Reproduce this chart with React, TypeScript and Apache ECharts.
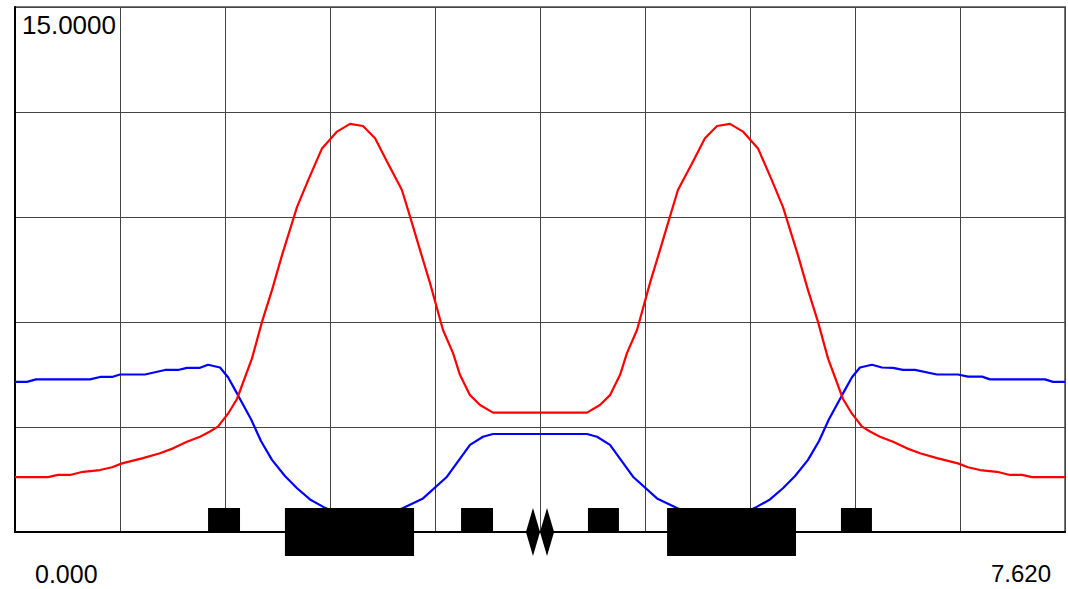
import React, { useEffect, useRef } from "react";
import * as echarts from "echarts";

// Axis ranges and tick labels
const X_MIN = 0;
const X_MAX = 7.62;
const X_INTERVAL = 0.762;
const Y_MIN = 0;
const Y_MAX = 15;
const Y_INTERVAL = 3;
const X_MIN_LABEL = "0.000";
const X_MAX_LABEL = "7.620";
const Y_MAX_LABEL = "15.0000";

// Blue curve [position, value]
const BLUE_POINTS: [number, number][] = [
  [0.0, 4.29], [0.087, 4.29], [0.152, 4.36], [0.544, 4.36], [0.617, 4.43],
  [0.704, 4.43], [0.762, 4.5], [0.943, 4.5], [1.089, 4.63], [1.183, 4.63],
  [1.248, 4.69], [1.343, 4.69], [1.401, 4.78], [1.488, 4.7], [1.546, 4.42],
  [1.611, 3.96], [1.713, 3.22], [1.785, 2.6], [1.865, 2.06], [1.959, 1.6],
  [2.047, 1.25], [2.141, 0.93], [2.25, 0.69], [2.359, 0.48], [2.446, 0.38],
  [2.525, 0.35], [2.613, 0.4], [2.707, 0.52], [2.801, 0.66], [2.961, 0.96],
  [3.135, 1.58], [3.302, 2.49], [3.396, 2.72], [3.469, 2.8], [4.151, 2.8],
  [4.224, 2.72], [4.318, 2.49], [4.485, 1.58], [4.659, 0.96], [4.819, 0.66],
  [4.913, 0.52], [5.007, 0.4], [5.095, 0.35], [5.174, 0.38], [5.261, 0.48],
  [5.37, 0.69], [5.479, 0.93], [5.573, 1.25], [5.661, 1.6], [5.755, 2.06],
  [5.835, 2.6], [5.907, 3.22], [6.009, 3.96], [6.074, 4.42], [6.132, 4.7],
  [6.219, 4.78], [6.292, 4.7], [6.372, 4.69], [6.444, 4.63], [6.531, 4.63],
  [6.691, 4.5], [6.843, 4.5], [6.916, 4.44], [7.018, 4.44], [7.076, 4.36],
  [7.475, 4.36], [7.533, 4.29], [7.62, 4.29],
];

// Red curve [position, value]
const RED_POINTS: [number, number][] = [
  [0.0, 1.57], [0.239, 1.57], [0.312, 1.63], [0.399, 1.63], [0.493, 1.72],
  [0.617, 1.77], [0.704, 1.85], [0.777, 1.96], [0.929, 2.11], [1.052, 2.25],
  [1.147, 2.39], [1.248, 2.58], [1.343, 2.72], [1.415, 2.87], [1.473, 3.01],
  [1.546, 3.38], [1.611, 3.8], [1.72, 4.96], [1.793, 6.01], [1.865, 6.91],
  [1.938, 7.91], [2.047, 9.29], [2.134, 10.11], [2.228, 10.96], [2.337, 11.44],
  [2.431, 11.66], [2.525, 11.6], [2.613, 11.25], [2.707, 10.53], [2.808, 9.77],
  [2.867, 9.01], [2.939, 8.06], [3.012, 7.11], [3.106, 5.77], [3.179, 5.11],
  [3.229, 4.49], [3.302, 3.91], [3.375, 3.63], [3.469, 3.41], [4.151, 3.41],
  [4.245, 3.63], [4.318, 3.91], [4.391, 4.49], [4.441, 5.11], [4.514, 5.77],
  [4.608, 7.11], [4.681, 8.06], [4.753, 9.01], [4.811, 9.77], [4.913, 10.53],
  [5.007, 11.25], [5.095, 11.6], [5.189, 11.66], [5.283, 11.44], [5.392, 10.96],
  [5.486, 10.11], [5.573, 9.29], [5.682, 7.91], [5.755, 6.91], [5.827, 6.01],
  [5.9, 4.96], [6.009, 3.8], [6.074, 3.38], [6.147, 3.01], [6.205, 2.87],
  [6.277, 2.72], [6.372, 2.58], [6.473, 2.39], [6.568, 2.25], [6.691, 2.11],
  [6.843, 1.96], [6.916, 1.85], [7.003, 1.77], [7.126, 1.72], [7.221, 1.63],
  [7.308, 1.63], [7.381, 1.57], [7.62, 1.57],
];

// Beam-line elements [start, end, kind]  kind: 0 = small block, 1 = large block, 2 = diamond
const ELEMENTS: [number, number, number][] = [
  [1.401, 1.633, 0],
  [1.959, 2.896, 1],
  [3.237, 3.469, 0],
  [3.708, 3.81, 2],
  [3.81, 3.912, 2],
  [4.158, 4.383, 0],
  [4.732, 5.668, 1],
  [5.994, 6.219, 0],
];

const FONT = "Liberation Sans, Arial, Helvetica, sans-serif";

export default function App() {
  const ref = useRef<HTMLDivElement>(null);

  useEffect(() => {
    if (!ref.current) return;
    const chart = echarts.init(ref.current, undefined, { renderer: "svg" });
    const H = 24;

    chart.setOption({
      animation: false,
      backgroundColor: "#ffffff",
      grid: {
        left: 15,
        top: 7,
        width: 1050,
        height: 525,
        show: true,
        borderColor: "#777777",
        borderWidth: 2,
        backgroundColor: "transparent",
      },
      xAxis: {
        type: "value",
        min: X_MIN,
        max: X_MAX,
        interval: X_INTERVAL,
        axisLine: { show: true, onZero: false, lineStyle: { color: "#000", width: 2 } },
        axisTick: { show: false },
        axisLabel: { show: false },
        splitLine: { show: true, lineStyle: { color: "#444444", width: 1 } },
      },
      yAxis: {
        type: "value",
        min: Y_MIN,
        max: Y_MAX,
        interval: Y_INTERVAL,
        axisLine: { show: true, lineStyle: { color: "#000", width: 2 } },
        axisTick: { show: false },
        axisLabel: { show: false },
        splitLine: { show: true, lineStyle: { color: "#444444", width: 1 } },
      },
      graphic: [
        {
          type: "text",
          left: 22,
          top: 12,
          z: 100,
          style: { text: Y_MAX_LABEL, font: `26px ${FONT}`, fill: "#000" },
        },
        {
          type: "text",
          left: 35,
          top: 561,
          z: 100,
          style: { text: X_MIN_LABEL, font: `25px ${FONT}`, fill: "#000" },
        },
        {
          type: "text",
          right: 17,
          top: 561,
          z: 100,
          style: { text: X_MAX_LABEL, font: `24px ${FONT}`, fill: "#000" },
        },
      ],
      series: [
        {
          type: "line",
          data: BLUE_POINTS,
          showSymbol: false,
          lineStyle: { color: "#0000ff", width: 2.2 },
          itemStyle: { color: "#0000ff" },
          z: 2,
        },
        {
          type: "line",
          data: RED_POINTS,
          showSymbol: false,
          lineStyle: { color: "#ff0000", width: 2.2 },
          itemStyle: { color: "#ff0000" },
          z: 3,
        },
        {
          type: "custom",
          data: ELEMENTS,
          clip: false,
          z: 10,
          encode: { x: [0, 1] },
          renderItem: (params: any, api: any) => {
            const s = api.value(0);
            const e = api.value(1);
            const kind = api.value(2);
            const p0 = api.coord([s, 0]);
            const p1 = api.coord([e, 0]);
            const y0 = p0[1];
            if (kind === 2) {
              const cx = (p0[0] + p1[0]) / 2;
              return {
                type: "polygon",
                shape: {
                  points: [
                    [cx, y0 - H],
                    [p1[0], y0],
                    [cx, y0 + H],
                    [p0[0], y0],
                  ],
                },
                style: { fill: "#000" },
              };
            }
            const top = y0 - H;
            const h = kind === 1 ? 2 * H : H;
            return {
              type: "rect",
              shape: { x: p0[0], y: top, width: p1[0] - p0[0], height: h },
              style: { fill: "#000" },
            };
          },
        },
      ],
    });

    return () => chart.dispose();
  }, []);

  return (
    <div
      ref={ref}
      style={{ position: "absolute", left: 0, top: 0, width: 1068, height: 589, background: "#fff" }}
    />
  );
}
